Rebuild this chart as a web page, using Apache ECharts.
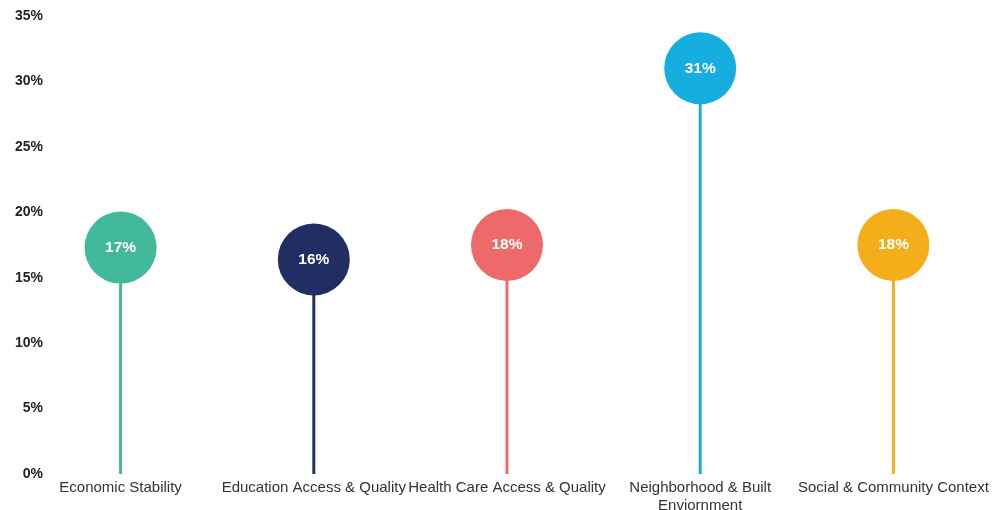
<!DOCTYPE html>
<html>
<head>
<meta charset="utf-8">
<script src="https://cdn.jsdelivr.net/npm/echarts@6/dist/echarts.min.js"></script>
<style>
html,body{margin:0;padding:0;background:#fff;}
#chart{width:1006px;height:510px;}
</style>
</head>
<body>
<div id="chart"></div>
<script>
const categories = ["Economic Stability", "Education Access & Quality", "Health Care Access & Quality", "Neighborhood & Built\nEnviornment", "Social & Community Context"];
const values = [17.3, 16.4, 17.5, 31.0, 17.5];
const valueLabels = ["17%", "16%", "18%", "31%", "18%"];
const colors = ["#41B99A", "#212E63", "#EE6A6A", "#16AEDE", "#F4AE1A"];
const yTicks = [0, 5, 10, 15, 20, 25, 30, 35];

const FONT = "'Liberation Sans', Arial, sans-serif";
const chart = echarts.init(document.getElementById('chart'));
chart.setOption({
  animation: false,
  textStyle: { fontFamily: FONT },
  grid: { left: 24, right: 16, top: 16, bottom: 36, outerBoundsMode: 'none', containLabel: false },
  xAxis: {
    type: 'category',
    data: categories,
    axisLine: { show: false },
    axisTick: { show: false },
    axisLabel: {
      interval: 0,
      margin: 5,
      color: '#333',
      fontFamily: FONT,
      fontSize: 15,
      lineHeight: 18,
      hideOverlap: false
    }
  },
  yAxis: {
    type: 'value',
    min: yTicks[0],
    max: yTicks[yTicks.length - 1],
    interval: 5,
    offset: -27,
    splitLine: { show: false },
    axisLine: { show: false },
    axisTick: { show: false },
    axisLabel: {
      color: '#222',
      fontWeight: 'bold',
      fontFamily: FONT,
      fontSize: 14,
      formatter: v => v + '%'
    }
  },
  series: [
    {
      type: 'bar',
      barWidth: 3,
      z: 1,
      data: values.map((v, i) => ({ value: v, itemStyle: { color: colors[i] } }))
    },
    {
      type: 'scatter',
      symbol: 'circle',
      symbolSize: 72,
      z: 2,
      data: values.map((v, i) => ({ value: v, itemStyle: { color: colors[i], opacity: 1 } })),
      label: {
        show: true,
        position: 'inside',
        color: '#fff',
        fontWeight: 'bold',
        fontFamily: FONT,
        fontSize: 15.5,
        formatter: p => valueLabels[p.dataIndex]
      }
    }
  ]
});
</script>
</body>
</html>
